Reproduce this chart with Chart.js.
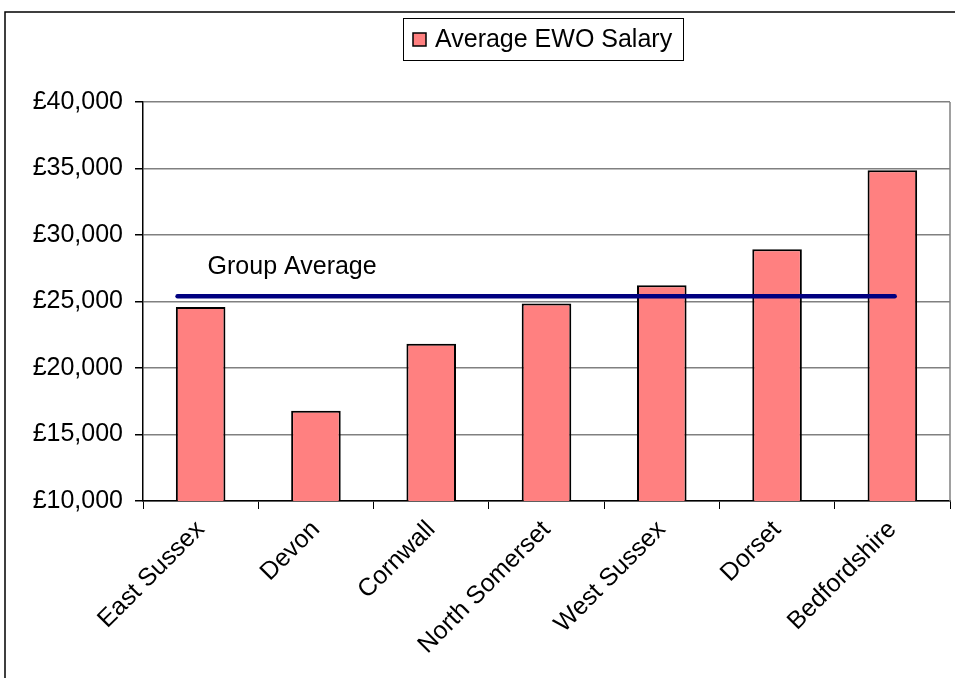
<!DOCTYPE html>
<html>
<head>
<meta charset="utf-8">
<script src="https://cdn.jsdelivr.net/npm/chart.js@4"></script>
<style>
  html, body { margin: 0; padding: 0; background: #fff; }
  #wrap { width: 955px; height: 678px; }
</style>
</head>
<body>
<div id="wrap"><canvas id="salaryChart"></canvas></div>
<script>
// data
const counties = ['East Sussex', 'Devon', 'Cornwall', 'North Somerset', 'West Sussex', 'Dorset', 'Bedfordshire'];
const salaries = [24580, 16790, 21830, 24850, 26220, 28930, 34870];
const groupAverage = 25400;
const groupAvgSpan = [-0.2, 6.02]; // line runs from East Sussex bar edge to Bedfordshire centre
const yTicks = [10000, 15000, 20000, 25000, 30000, 35000, 40000];

const FONT = '"Liberation Sans", Arial, sans-serif';
const FONT_SIZE = 25;

// frame round the whole chart + plot border + legend box + line label
const decorations = {
    id: 'decorations',
    beforeDraw(chart) {
        const c = chart.ctx;
        c.save();
        c.strokeStyle = '#000';
        c.lineWidth = 1.5;
        c.beginPath();
        c.moveTo(5, 700);
        c.lineTo(5, 12);
        c.lineTo(960, 12);
        c.stroke();
        c.restore();
    },
    afterDatasetsDraw(chart) {
        const c = chart.ctx;
        const area = chart.chartArea;
        c.save();
        // plot area right border
        c.strokeStyle = '#808080';
        c.lineWidth = 1.5;
        c.beginPath();
        c.moveTo(area.right, area.top);
        c.lineTo(area.right, area.bottom);
        c.stroke();

        // legend
        const ds = chart.data.datasets[0];
        c.font = FONT_SIZE + 'px ' + FONT;
        const tw = c.measureText(ds.label).width;
        const boxW = Math.round(10 + 13 + 9 + tw + 11);
        const lx = Math.round((area.left + area.right) / 2 - boxW / 2) - 4;
        const ly = 18;
        c.fillStyle = '#fff';
        c.fillRect(lx, ly, boxW, 42);
        c.strokeStyle = '#000';
        c.lineWidth = 1;
        c.strokeRect(lx + 0.5, ly + 0.5, boxW, 42);
        c.fillStyle = ds.backgroundColor;
        c.fillRect(lx + 10, ly + 15, 13, 13);
        c.lineWidth = 1.5;
        c.strokeRect(lx + 10, ly + 15, 13, 13);
        c.fillStyle = '#000';
        c.textBaseline = 'middle';
        c.fillText(ds.label, lx + 32, ly + 22);

        // label above the group average line
        const p = chart.getDatasetMeta(1).data[0];
        c.textBaseline = 'alphabetic';
        c.fillText('Group Average', p.x + 30, p.y - 22);
        c.restore();
    }
};

const ctx = document.getElementById('salaryChart').getContext('2d');

new Chart(ctx, {
    type: 'bar',
    data: {
        labels: counties,
        datasets: [{
            type: 'bar',
            label: 'Average EWO Salary',
            data: salaries,
            backgroundColor: '#FF8080',
            borderColor: '#000',
            borderWidth: 2,
            grouped: false,
            categoryPercentage: 1,
            barPercentage: 0.43,
            order: 2
        }, {
            type: 'line',
            label: 'Group Average',
            data: groupAvgSpan.map(x => ({ x: x, y: groupAverage })),
            xAxisID: 'xLin',
            borderColor: '#000080',
            borderWidth: 4.5,
            borderCapStyle: 'round',
            pointRadius: 0,
            fill: false,
            order: 1
        }]
    },
    options: {
        responsive: true,
        maintainAspectRatio: false,
        animation: false,
        layout: { padding: { top: 102, right: 5, left: 0, bottom: 0 } },
        plugins: {
            legend: { display: false },
            tooltip: { enabled: false }
        },
        scales: {
            x: {
                type: 'category',
                offset: true,
                grid: {
                    offset: true,
                    drawOnChartArea: false,
                    tickColor: '#000',
                    tickLength: 8,
                    tickWidth: 1
                },
                border: { color: '#000', width: 1.5 },
                ticks: {
                    color: '#000',
                    font: { family: FONT, size: FONT_SIZE },
                    maxRotation: 45,
                    minRotation: 45,
                    padding: 6
                },
                afterFit: function(scale) { scale.height = 177; }
            },
            xLin: {
                type: 'linear',
                display: false,
                offset: false,
                min: -0.5,
                max: 6.5
            },
            y: {
                min: yTicks[0],
                max: yTicks[yTicks.length - 1],
                afterBuildTicks: function(scale) {
                    scale.ticks = yTicks.map(v => ({ value: v }));
                },
                grid: {
                    color: '#808080',
                    lineWidth: 1.5,
                    tickColor: '#000',
                    tickLength: 8
                },
                border: { color: '#000', width: 1.5 },
                ticks: {
                    color: '#000',
                    font: { family: FONT, size: FONT_SIZE },
                    padding: 12,
                    callback: function(v) {
                        return '£' + Number(v).toLocaleString('en-GB');
                    }
                },
                afterFit: function(scale) { scale.width = 143; }
            }
        }
    },
    plugins: [decorations]
});
</script>
</body>
</html>
